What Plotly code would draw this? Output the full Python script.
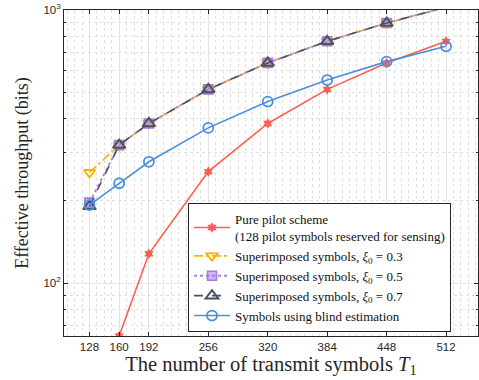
import plotly.graph_objects as go

T = [128, 160, 192, 256, 320, 384, 448, 512]
tick_labels = ["128", "160", "192", "256", "320", "384", "448", "512"]

pilot_T = [160, 192, 256, 320, 384, 448, 512]
pilot = [64, 128, 256, 384, 512, 640, 768]
sup_03 = [254, 320, 384, 512, 640, 768, 896, 1024]
sup_05 = [197, 320, 384, 512, 640, 768, 896, 1024]
sup_07 = [191, 320, 384, 512, 640, 768, 896, 1024]
blind = [193, 232, 278, 370, 462, 554, 647, 736]

names = [
    "Pure pilot scheme<br>(128 pilot symbols reserved for sensing)",
    "Superimposed symbols, <i>ξ</i><sub>0</sub> = 0.3",
    "Superimposed symbols, <i>ξ</i><sub>0</sub> = 0.5",
    "Superimposed symbols, <i>ξ</i><sub>0</sub> = 0.7",
    "Symbols using blind estimation",
]

RED = "#F9604F"
YEL = "#FFB000"
PUR = "#A47CE6"
GRY = "#4B5263"
BLU = "#4A8FE0"

fig = go.Figure()
fig.add_trace(go.Scatter(x=pilot_T, y=pilot, name=names[0], mode="lines+markers",
                         line=dict(color=RED, width=1.6),
                         marker=dict(symbol="hexagram", size=8, color=RED),
                         cliponaxis=True))
fig.add_trace(go.Scatter(x=T, y=sup_03, name=names[1], mode="lines+markers",
                         line=dict(color=YEL, width=1.6, dash="dashdot"),
                         marker=dict(symbol="triangle-down-open", size=10, color=YEL,
                                     line=dict(width=1.8)),
                         cliponaxis=False))
fig.add_trace(go.Scatter(x=T, y=sup_05, name=names[2], mode="lines+markers",
                         line=dict(color=PUR, width=1.8, dash="dot"),
                         marker=dict(symbol="square", size=9, color="rgba(164,124,230,0.55)",
                                     line=dict(width=1.6, color=PUR)),
                         cliponaxis=False))
fig.add_trace(go.Scatter(x=T, y=sup_07, name=names[3], mode="lines+markers",
                         line=dict(color=GRY, width=1.6, dash="dash"),
                         marker=dict(symbol="triangle-up-open", size=11, color=GRY,
                                     line=dict(width=2)),
                         cliponaxis=False))
fig.add_trace(go.Scatter(x=T, y=blind, name=names[4], mode="lines+markers",
                         line=dict(color=BLU, width=1.6),
                         marker=dict(symbol="circle-open", size=10, color=BLU,
                                     line=dict(width=1.8)),
                         cliponaxis=False))

fig.update_layout(
    width=479, height=380,
    margin=dict(l=64, r=1, t=10, b=44, autoexpand=False),
    paper_bgcolor="white", plot_bgcolor="white",
    font=dict(family="Liberation Serif", color="#262626"),
    legend=dict(x=0.2995, y=0.012, xanchor="left", yanchor="bottom",
                bgcolor="white", bordercolor="#262626", borderwidth=1,
                font=dict(family="Liberation Serif", size=13, color="#111111"),
                itemwidth=36, tracegroupgap=0),
    showlegend=True,
)
fig.update_xaxes(
    type="linear", range=[100.6, 546.4], automargin=False,
    tickvals=T, ticktext=tick_labels,
    tickfont=dict(family="Liberation Sans", size=11.5, color="#262626"),
    ticks="inside", ticklen=4, tickcolor="#262626",
    showline=True, linecolor="#262626", linewidth=1, mirror="ticks",
    showgrid=True, gridcolor="#E3E3E3", gridwidth=1,
    minor=dict(dtick=8, tick0=0, showgrid=True, gridcolor="#E0E0E0",
               griddash="dot", gridwidth=1, ticks=""),
    zeroline=False,
    title=dict(text="The number of transmit symbols <i>T</i><sub>1</sub>",
               font=dict(family="Liberation Serif", size=20.5, color="#262626"),
               standoff=4),
)
fig.update_yaxes(
    type="log", range=[1.806, 3.0], automargin=False,
    tickvals=[100, 1000], ticktext=["10<sup>2</sup>", "10<sup>3</sup>"],
    tickfont=dict(family="Liberation Sans", size=11.5, color="#262626"),
    ticks="inside", ticklen=4, tickcolor="#262626",
    showline=True, linecolor="#262626", linewidth=1, mirror="ticks",
    showgrid=True, gridcolor="#E3E3E3", gridwidth=1,
    minor=dict(tickvals=[70, 80, 90, 200, 300, 400, 500, 600, 700, 800, 900],
               showgrid=True, gridcolor="#E0E0E0", griddash="dot", gridwidth=1,
               ticks="inside", ticklen=2, tickcolor="#262626"),
    zeroline=False,
    title=dict(text="Effective throughput (bits)",
               font=dict(family="Liberation Serif", size=18, color="#262626"),
               standoff=10),
)

fig.write_html("out.html", config={"displayModeBar": False},
               post_script="document.body.style.margin='0px';")
